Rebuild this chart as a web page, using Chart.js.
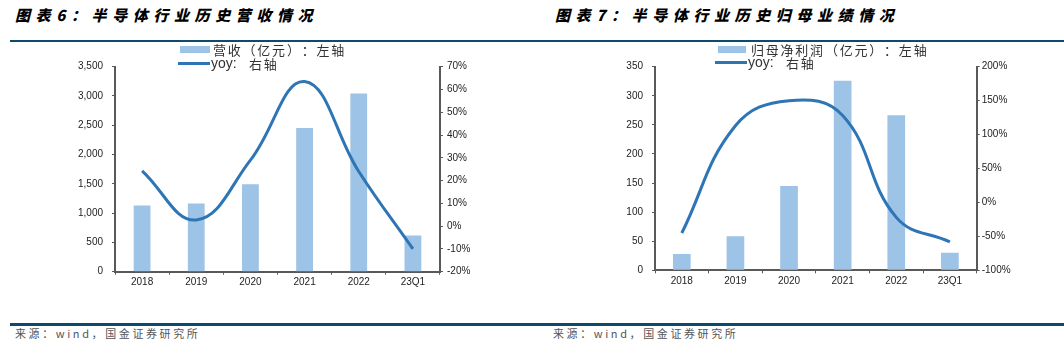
<!DOCTYPE html>
<html>
<head>
<meta charset="utf-8">
<script src="https://cdn.jsdelivr.net/npm/chart.js@4.4.0/dist/chart.umd.min.js"></script>
<style>
    html, body { margin: 0; padding: 0; background: #fff; }
    body { width: 1064px; height: 353px; position: relative; overflow: hidden; font-family: "Noto Sans CJK SC", "Liberation Sans", sans-serif; }
    .title { position: absolute; top: 4px; font-size: 15px; font-weight: 900; font-style: italic; letter-spacing: 5.6px; color: #000; white-space: nowrap; }
    .rule-top { position: absolute; left: 10px; right: 0; top: 40px; height: 1.5px; background: #0d4b6c; }
    .rule-bottom { position: absolute; left: 10px; right: 0; top: 323px; height: 2.5px; background: #0d4b6c; }
    .source { position: absolute; top: 325px; font-size: 11px; letter-spacing: 2.6px; color: #555; white-space: nowrap; }
    .panel { position: absolute; top: 0; height: 300px; }
    .legend { position: absolute; font-size: 13px; color: #333; white-space: nowrap; }
    .legend .row { position: absolute; left: 0; height: 16px; display: flex; align-items: center; }
    .legend .bar-swatch { width: 30px; height: 7px; background: #9dc3e6; margin-right: 2px; }
    .legend .line-swatch { width: 32px; height: 3px; background: #2e75b6; margin-right: 1px; }
    .legend .cn { display: flex; }
    .legend .cn span { display: inline-block; width: 14.8px; text-align: center; }
    .legend .en { font-family: "Liberation Sans", Arial, sans-serif; font-size: 14px; display: inline-block; width: 37px; }
</style>
</head>
<body>
<div class="title" style="left:15px;">图表6：半导体行业历史营收情况</div>
<div class="title" style="left:555px;">图表7：半导体行业历史归母业绩情况</div>
<div class="rule-top"></div>

<div class="panel" style="left:0;width:530px;">
    <canvas id="revenueChart" width="530" height="300"></canvas>
</div>
<div class="panel" style="left:530px;width:534px;">
    <canvas id="profitChart" width="534" height="300"></canvas>
</div>

<!-- legends -->
<div class="legend" style="left:180px;top:40px;">
    <div class="row" style="top:1px;"><span class="bar-swatch"></span><span class="cn">营收（亿元）：左轴</span></div>
    <div class="row" style="top:15px;left:-2px;"><span class="line-swatch"></span><span class="en">yoy:</span><span class="cn">右轴</span></div>
</div>
<div class="legend" style="left:718px;top:40px;">
    <div class="row" style="top:1px;"><span class="bar-swatch" style="width:28px;margin-right:4px;"></span><span class="cn">归母净利润（亿元）：左轴</span></div>
    <div class="row" style="top:14px;left:-3px;"><span class="line-swatch"></span><span class="en">yoy:</span><span class="cn">右轴</span></div>
</div>

<div class="rule-bottom"></div>
<div class="source" style="left:15px;">来源：wind，国金证券研究所</div>
<div class="source" style="left:553px;">来源：wind，国金证券研究所</div>

<script>
// categories shared by both charts
const categories = ['2018', '2019', '2020', '2021', '2022', '23Q1'];

// chart 6: revenue (亿元) and yoy (%)
const revenue = [1130, 1165, 1495, 2455, 3043, 616];
const revenueYoy = [24.3, 2.7, 29, 63.5, 24, -10];
const revenueTicks = [0, 500, 1000, 1500, 2000, 2500, 3000, 3500];
const revenueYoyTicks = [-20, -10, 0, 10, 20, 30, 40, 50, 60, 70];

// chart 7: net profit attributable to parent (亿元) and yoy (%)
const profit = [28, 58.4, 145, 326, 266.5, 30.3];
const profitYoy = [-45, 113, 150, 128, -22, -58];
const profitTicks = [0, 50, 100, 150, 200, 250, 300, 350];
const profitYoyTicks = [-100, -50, 0, 50, 100, 150, 200];

const BAR_COLOR = '#9dc3e6';
const LINE_COLOR = '#2e75b6';
const AXIS_COLOR = '#595959';
const TICK_FONT = { family: '"Liberation Sans", Arial, sans-serif', size: 10 };

// legend text: one fixed-width cell per character, like the full-width layout of the original
document.querySelectorAll('.legend .cn').forEach(el => {
    el.innerHTML = Array.from(el.textContent).map(c => `<span>${c}</span>`).join('');
});

function fixedWidth(w) {
    return (scale) => { scale.width = w; };
}
function fixedHeight(h) {
    return (scale) => { scale.height = h; };
}

function axisBase() {
    return {
        border: { display: true, color: AXIS_COLOR, width: 2 },
        grid: { drawOnChartArea: false, drawTicks: true, tickLength: 3, color: AXIS_COLOR, lineWidth: 1 }
    };
}

function buildChart(canvasId, opts) {
    const leftTicks = opts.leftTicks;
    const rightTicks = opts.rightTicks;
    return new Chart(document.getElementById(canvasId), {
        type: 'bar',
        data: {
            labels: categories,
            datasets: [
                {
                    type: 'line',
                    data: opts.yoy,
                    yAxisID: 'y1',
                    borderColor: LINE_COLOR,
                    borderWidth: 3,
                    borderCapStyle: 'butt',
                    pointRadius: 0,
                    tension: 0.42,
                    fill: false,
                    order: 0
                },
                {
                    data: opts.values,
                    yAxisID: 'y',
                    backgroundColor: BAR_COLOR,
                    barPercentage: opts.barPct,
                    categoryPercentage: 1,
                    order: 1
                }
            ]
        },
        options: {
            responsive: false,
            animation: false,
            devicePixelRatio: 1,
            layout: { padding: { left: 0, right: 0, top: opts.top, bottom: 0 } },
            plugins: { legend: { display: false }, tooltip: { enabled: false } },
            scales: {
                x: {
                    ...axisBase(),
                    offset: true,
                    ticks: { color: '#222', font: TICK_FONT, padding: 2, maxRotation: 0, autoSkip: false },
                    afterFit: fixedHeight(opts.xHeight)
                },
                y: {
                    ...axisBase(),
                    position: 'left',
                    min: leftTicks[0],
                    max: leftTicks[leftTicks.length - 1],
                    afterBuildTicks: (scale) => { scale.ticks = leftTicks.map(v => ({ value: v })); },
                    ticks: {
                        color: '#222', font: TICK_FONT, padding: 9,
                        callback: (v) => v.toLocaleString('en-US')
                    },
                    afterFit: fixedWidth(opts.leftWidth)
                },
                y1: {
                    ...axisBase(),
                    position: 'right',
                    min: rightTicks[0],
                    max: rightTicks[rightTicks.length - 1],
                    afterBuildTicks: (scale) => { scale.ticks = rightTicks.map(v => ({ value: v })); },
                    ticks: {
                        color: '#222', font: TICK_FONT, padding: opts.rightPad,
                        callback: (v) => v + '%'
                    },
                    afterFit: fixedWidth(opts.rightWidth)
                }
            }
        }
    });
}

buildChart('revenueChart', {
    values: revenue, yoy: revenueYoy,
    leftTicks: revenueTicks, rightTicks: revenueYoyTicks,
    top: 66.7, xHeight: 28.3, leftWidth: 115, rightWidth: 90, rightPad: 4, barPct: 0.31
});

buildChart('profitChart', {
    values: profit, yoy: profitYoy,
    leftTicks: profitTicks, rightTicks: profitYoyTicks,
    top: 66.7, xHeight: 29.7, leftWidth: 125, rightWidth: 87.3, rightPad: 2, barPct: 0.33
});
</script>
</body>
</html>
